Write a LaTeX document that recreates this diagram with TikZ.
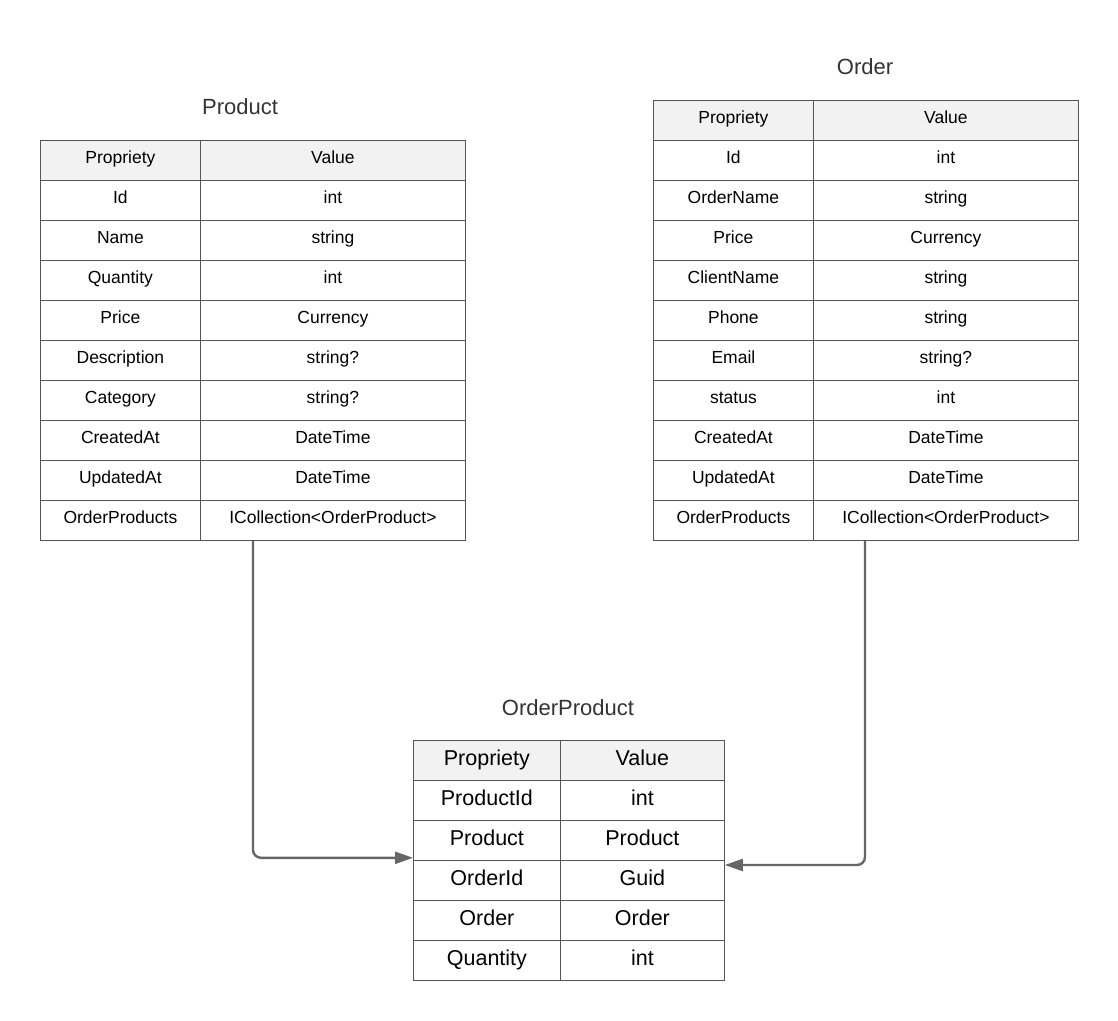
\documentclass[tikz,border=0pt]{standalone}
\usepackage{fontspec}
\setmainfont{Liberation Sans}
\usetikzlibrary{positioning,calc,arrows.meta}
\definecolor{linegray}{HTML}{555555}
\definecolor{headgray}{HTML}{F2F2F2}
\definecolor{arrowgray}{HTML}{666666}
\definecolor{titlegray}{HTML}{333333}

\begin{document}
\begin{tikzpicture}[x=1pt, y=-1pt,
        cell/.style={rectangle, draw=linegray, line width=0.8pt, minimum height=40, inner sep=0, anchor=north west, text height=12, text depth=5.5, font=\fontsize{17.5}{20}\selectfont},
        bigcell/.style={cell, text height=15, text depth=5.6, font=\fontsize{21.5}{24}\selectfont},
        title/.style={text=titlegray, font=\fontsize{22}{26}\selectfont},
        link/.style={-{Triangle[length=18pt, width=12pt]}, draw=arrowgray, line width=2.4pt, rounded corners=8}
    ]
    \useasboundingbox (0,0) rectangle (1118,1020);

    % Left table - Product
    \node[title] (producttitle) at (240,107) {Product};
    \foreach \p/\v [count=\i] in {Propriety/Value, Id/int, Name/string, Quantity/int, Price/Currency, Description/string?, Category/string?, CreatedAt/DateTime, UpdatedAt/DateTime, OrderProducts/ICollection<OrderProduct>} {
        \ifnum\i=1 \def\rowfill{headgray}\else \def\rowfill{white}\fi
        \node[cell, fill=\rowfill, minimum width=160] (p-\i-1) at (40,{140+(\i-1)*40}) {\p};
        \node[cell, fill=\rowfill, minimum width=265] (p-\i-2) at (200,{140+(\i-1)*40}) {\v};
    }

    % Right table - Order
    \node[title] (ordertitle) at (865,67) {Order};
    \foreach \p/\v [count=\i] in {Propriety/Value, Id/int, OrderName/string, Price/Currency, ClientName/string, Phone/string, Email/string?, status/int, CreatedAt/DateTime, UpdatedAt/DateTime, OrderProducts/ICollection<OrderProduct>} {
        \ifnum\i=1 \def\rowfill{headgray}\else \def\rowfill{white}\fi
        \node[cell, fill=\rowfill, minimum width=160] (o-\i-1) at (653,{100+(\i-1)*40}) {\p};
        \node[cell, fill=\rowfill, minimum width=265] (o-\i-2) at (813,{100+(\i-1)*40}) {\v};
    }

    % Bottom table - OrderProduct
    \node[title] (optitle) at (568,708) {OrderProduct};
    \foreach \p/\v [count=\i] in {Propriety/Value, ProductId/int, Product/Product, OrderId/Guid, Order/Order, Quantity/int} {
        \ifnum\i=1 \def\rowfill{headgray}\else \def\rowfill{white}\fi
        \node[bigcell, fill=\rowfill, minimum width=147] (op-\i-1) at (413,{740+(\i-1)*40}) {\p};
        \node[bigcell, fill=\rowfill, minimum width=164] (op-\i-2) at (560,{740+(\i-1)*40}) {\v};
    }

    % Links to the join table
    \coordinate (pstart) at ($(p-10-2.south west)+(53,0)$);
    \coordinate (pend) at ($(op-3-1.south west)+(0,-3)$);
    \coordinate (ostart) at ($(o-11-2.south west)+(52,0)$);
    \coordinate (oend) at ($(op-4-2.north east)+(0,5)$);
    \draw[link] (pstart) |- (pend);
    \draw[link] (ostart) |- (oend);

\end{tikzpicture}
\end{document}
